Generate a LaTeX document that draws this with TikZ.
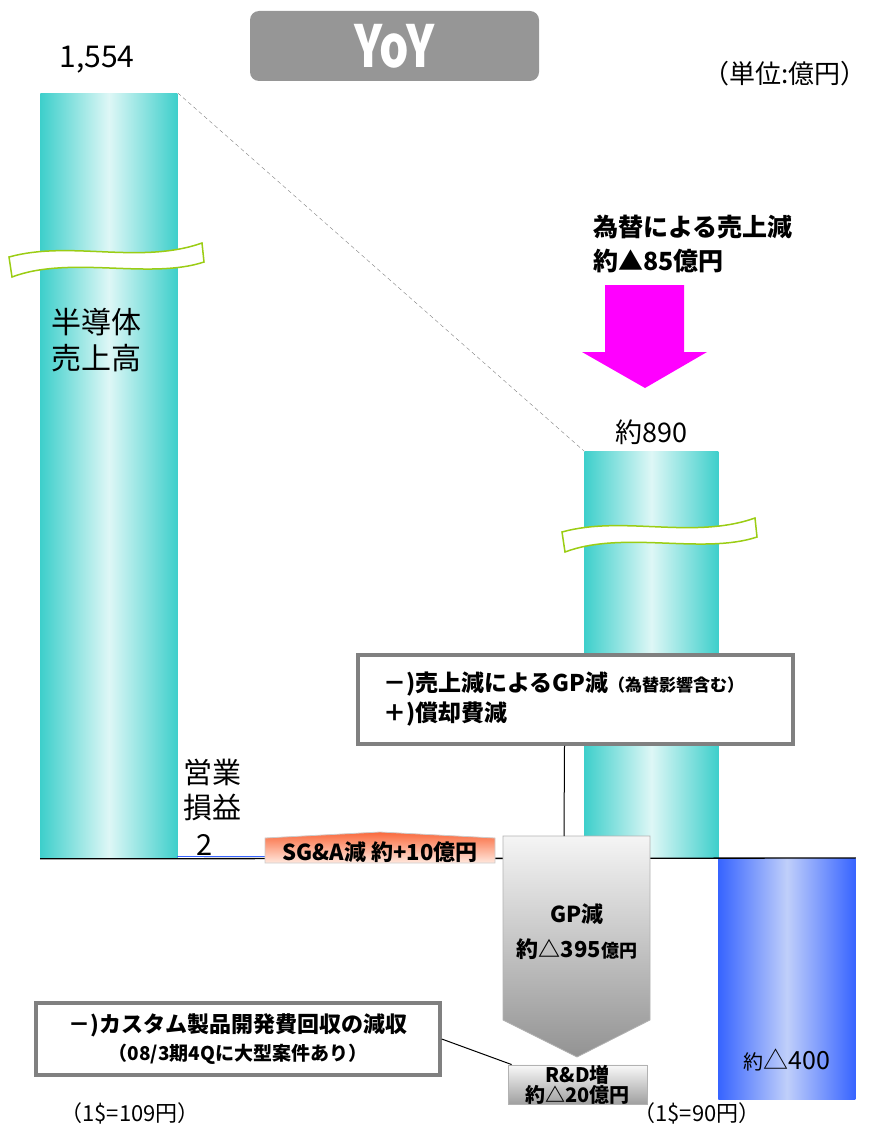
\documentclass[tikz,border=0pt]{standalone}
\usepackage{fontspec}
\setmainfont{Noto Sans CJK JP}
\usetikzlibrary{positioning, calc}

\definecolor{tealE}{RGB}{62,207,203}
\definecolor{tealM}{RGB}{222,247,246}
\definecolor{blueE}{RGB}{55,100,255}
\definecolor{blueM}{RGB}{192,207,250}
\definecolor{brkline}{RGB}{155,205,20}
\definecolor{notegray}{RGB}{128,128,128}
\definecolor{yoygray}{RGB}{150,150,150}
\definecolor{sgaE}{RGB}{250,105,60}
\definecolor{sgaM}{RGB}{255,232,222}
\definecolor{fxarrow}{RGB}{255,0,255}

\newcommand{\fsz}[2]{\fontsize{#1}{#2}\selectfont}

\begin{document}
\begin{tikzpicture}[x=1pt, y=-1pt, >=latex, thick]
\tikzset{
  bar/.style ={inner sep=0pt, anchor=north west, minimum width=137, left color=tealE, right color=tealE, middle color=tealM},
  brk/.style ={draw=brkline, line width=1.5, fill=white},
  note/.style={draw=notegray, line width=3.5, fill=white, inner sep=0pt},
  txt/.style ={inner sep=0pt, align=center}
}
\useasboundingbox (0,0) rectangle (874,1129);

% bars
\node[bar, minimum height=765] (lbar) at (40,93) {};
\node[bar, minimum height=407, minimum width=134] (mbar) at (584,451) {};
\node[bar, minimum height=241, left color=blueE, right color=blueE, middle color=blueM] (rbar) at (718,858) {};

\draw[line width=1.3] (lbar.south west) -- (rbar.north east);
\draw[blueE, line width=1.5] (177,856.5) -- (265,856.5);

% breaks
\foreach \dx/\dy in {0/0, 553/275}
  \path[brk, shift={(\dx,\dy)}] (9,257) .. controls (70,240) and (140,265) .. (202,243) -- (204,262) .. controls (150,280) and (70,255) .. (12,277) -- cycle;

\draw[gray, thin, dash pattern=on 4pt off 3pt] (lbar.north east) -- (mbar.north west);

% top
\node[txt, font=\fsz{30}{30}] (v1554) at (97,60) {1,554};
\node[fill=yoygray, rounded corners=9, minimum width=289, minimum height=70, text=white, font=\bfseries\fsz{58}{58}, inner sep=0pt] (yoy) at (394.5,46) {\scalebox{0.8}[1]{YoY}};
\node[txt, font=\fsz{26}{26}] (unit) at (785,74) {（単位:億円）};

% fx
\node[txt, align=left, anchor=west, font=\bfseries\fsz{25}{34}] (fx) at (593,244) {為替による売上減\\約▲85億円};
\path[fill=fxarrow] (605,285) -- (684,285) -- (684,352) -- (707,352) -- (645,388) -- (582,352) -- (605,352) -- cycle;
\node[txt, font=\fsz{27}{27}] (v890) at (651,432) {約890};

\node[txt, align=left, anchor=west, font=\fsz{30}{36}] (semi) at (51,340) {半導体\\売上高};
\node[txt, align=left, anchor=west, font=\fsz{29}{35}] (op) at (183,790) {営業\\損益};
\node[txt, font=\fsz{29}{29}] (opval) at (205,845) {2};

% SG&A
\path[draw=gray!40, top color=sgaE, bottom color=sgaM] (265,838) -- (380,832) -- (495,838) -- (495,863) -- (265,863) -- cycle;
\node[txt, font=\bfseries\fsz{22}{22}] (sga) at (380,852) {SG\&A減\ 約+10億円};

% GP
\path[draw=gray!60, top color=gray!8, bottom color=gray!85] (503,836) -- (650,836) -- (650,1020) -- (577,1057) -- (503,1020) -- cycle;
\coordinate (gptop) at (564,836);
\node[txt, font=\bfseries\fsz{22}{35}] (gp) at (577,932) {GP減\\約△395{\fsz{18}{18}億円}};

% R&D
\node[draw=gray!60, top color=gray!5, bottom color=gray!75, minimum width=139, minimum height=35, inner sep=0pt, align=center, font=\bfseries\fsz{20}{16}] (rnd) at (577.5,1084.5) {R\&D増\\約△20億円};

% notes
\node[note, minimum width=435, minimum height=89, text width=385, align=left, font=\bfseries\fsz{23}{30}] (gpnote) at (575.5,699.5) {－)売上減によるGP減{\fsz{17}{17}（為替影響含む）}\\＋)償却費減};
\draw[line width=1] ([xshift=-11pt]gpnote.south) -- (gptop);

\node[note, minimum width=404, minimum height=72, align=center, font=\bfseries\fsz{22}{28}] (dvnote) at (238,1039) {－)カスタム製品開発費回収の減収\\{\fsz{19}{19}（08/3期4Qに大型案件あり）}};
\draw[line width=1] (dvnote.east) -- ([xshift=4pt]rnd.north west);

% bottom
\node[txt, font=\fsz{25}{25}] (v400) at (787,1060) {{\fsz{20}{20}約}△400};
\node[txt, font=\fsz{22}{22}] (rate1) at (130,1113) {（1\$=109円）};
\node[txt, font=\fsz{22}{22}] (rate2) at (697,1113) {（1\$=90円）};

\end{tikzpicture}
\end{document}
